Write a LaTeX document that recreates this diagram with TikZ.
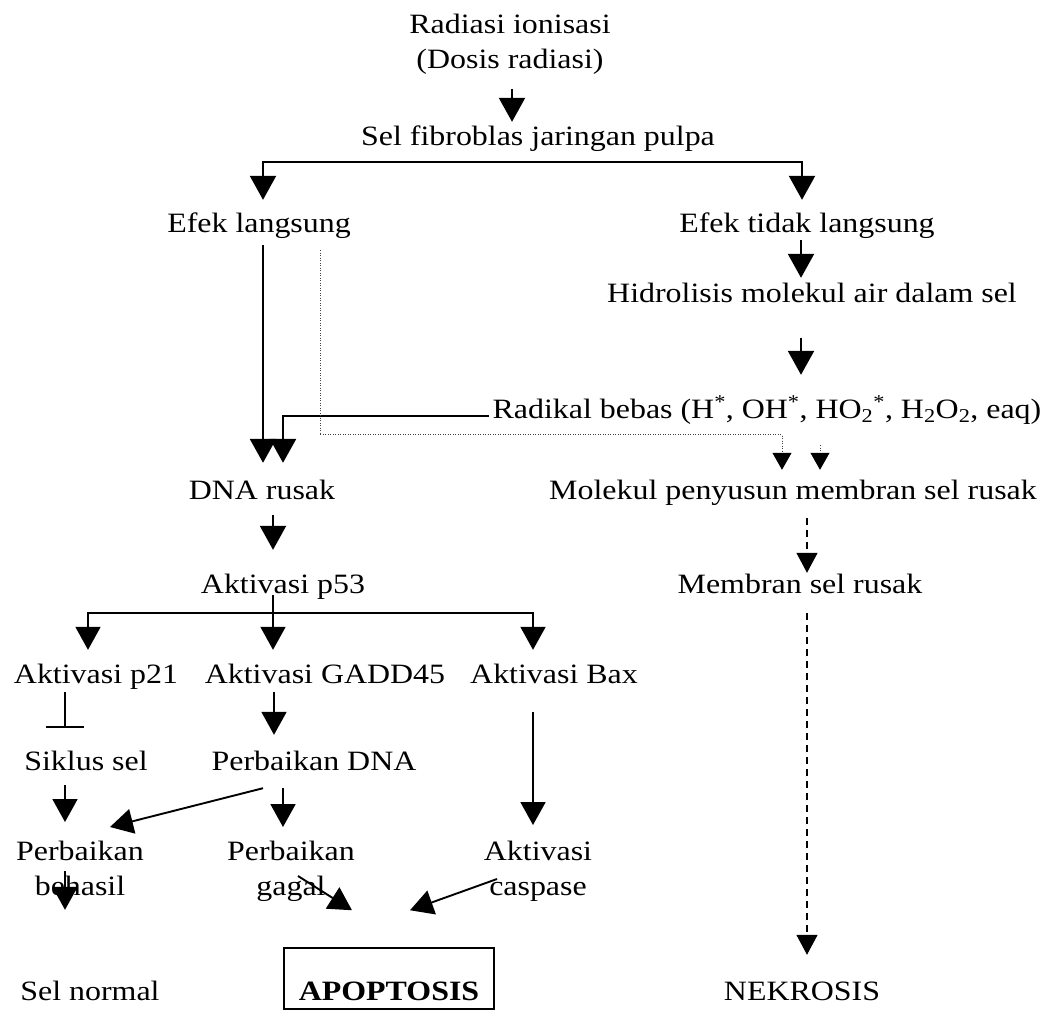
\documentclass[tikz,border=0pt]{standalone}
\usepackage{fontspec}
\setmainfont{Liberation Serif}[FakeStretch=1.14]
\usetikzlibrary{arrows.meta}
\begin{document}
\begin{tikzpicture}[x=1pt,y=-1pt,
  every node/.style={font=\fontsize{28}{35}\selectfont, inner sep=0pt},
  t/.style={anchor=base, text height=19pt, text depth=6pt},
  t2/.style={anchor=north, align=center},
  arr/.style={line width=2.3pt, -{Triangle[length=24pt,width=26pt]}},
  arrthick/.style={line width=2.6pt, -{Triangle[length=24pt,width=26pt]}},
  arrlow/.style={line width=1.9pt, -{Triangle[length=23pt,width=25pt]}},
  dotarr/.style={line width=1pt, draw=black!75, dash pattern=on 1pt off 1.5pt, -{Triangle[length=17pt,width=19pt,color=black]}},
  dasharr/.style={line width=1.3pt, dash pattern=on 7pt off 5pt, -{Triangle[length=20pt,width=21pt]}},
  inhib/.style={line width=1.9pt, -{Bar[width=38pt]}}
]
\useasboundingbox (0,0) rectangle (1042,1012);
\fill[white] (0,0) rectangle (1042,1012);

% nodes
\node[t2] (rad) at (510,14) {Radiasi ionisasi\\(Dosis radiasi)};
\node[t] (sel) at (538,145) {Sel fibroblas jaringan pulpa};
\node[t] (efl) at (259,232) {Efek langsung};
\node[t] (etl) at (807,232) {Efek tidak langsung};
\node[t] (hid) at (812,302) {Hidrolisis molekul air dalam sel};
\node[t] (radb) at (767,418) {Radikal bebas (H\textsuperscript{*}, OH\textsuperscript{*}, HO\textsubscript{2}\textsuperscript{*}, H\textsubscript{2}O\textsubscript{2}, eaq)};
\node[t] (dna) at (262,499) {DNA rusak};
\node[t] (mol) at (793,499) {Molekul penyusun membran sel rusak};
\node[t] (p53) at (283,593) {Aktivasi p53};
\node[t] (mem) at (800,593) {Membran sel rusak};
\node[t] (p21) at (96,683) {Aktivasi p21};
\node[t] (gadd) at (325,683) {Aktivasi GADD45};
\node[t] (bax) at (554,683) {Aktivasi Bax};
\node[t] (sik) at (86,770) {Siklus sel};
\node[t] (pdna) at (314,770) {Perbaikan DNA};
\node[t2] (beh) at (80,841) {Perbaikan\\behasil};
\node[t2] (gag) at (291,841) {Perbaikan\\gagal};
\node[t2] (cas) at (538,841) {Aktivasi\\caspase};
\node[t] (norm) at (90,1000) {Sel normal};
\node[t, draw, line width=1.5pt, inner xsep=15pt, text height=52pt, text depth=9pt,
      font=\fontsize{28}{35}\selectfont\bfseries] (apo) at (389,1000) {APOPTOSIS};
\node[t] (nek) at (802,1000) {NEKROSIS};

% connectors
\draw[arr] ([xshift=2pt,yshift=-14pt]rad.south) -- ([xshift=-26pt,yshift=4pt]sel.north);
\draw[arr, shorten >=13pt] ([yshift=-11pt]sel.south) -| ([xshift=4pt]efl.north);
\draw[arr, shorten >=13pt] ([yshift=-11pt]sel.south) -| ([xshift=-5pt]etl.north);

\draw[arrthick] ([xshift=4pt,yshift=-7pt]efl.south) -- ([xshift=1pt,yshift=17pt]dna.north);
\draw[arrthick] ([xshift=-3pt,yshift=2pt]radb.base west) -| ([xshift=21pt,yshift=17pt]dna.north);

\draw[dotarr] ([xshift=61pt,yshift=-12pt]efl.south) |- ([xshift=-11pt,yshift=45pt]mol.north) -- ([xshift=-11pt,yshift=10pt]mol.north);
\draw[dotarr] ([xshift=53pt,yshift=-21pt]radb.south) -- ([xshift=27pt,yshift=10pt]mol.north);

\draw[arr] ([xshift=-6pt,yshift=-2pt]etl.south) -- ([xshift=-11pt,yshift=5pt]hid.north);
\draw[arr] ([xshift=-11pt,yshift=-30pt]hid.south) -- ([xshift=34pt,yshift=24pt]radb.north);

\draw[arr] ([xshift=11pt,yshift=-10pt]dna.south) -- ([xshift=-10pt,yshift=24pt]p53.north);
\draw[dasharr] ([xshift=14pt,yshift=-13pt]mol.south) -- ([xshift=7pt,yshift=1pt]mem.north);
\draw[dasharr] ([xshift=7pt,yshift=-14pt]mem.south) -- ([xshift=5pt,yshift=26pt]nek.north);

\draw[arrlow] ([xshift=-10pt,yshift=-2pt]p53.base) -- ([xshift=-52pt,yshift=14pt]gadd.north);
\draw[arrlow] ([xshift=-10pt,yshift=-20pt]p53.base) -| ([xshift=-8pt,yshift=14pt]p21.north);
\draw[arrlow] ([xshift=-10pt,yshift=-20pt]p53.base) -| ([xshift=-21pt,yshift=14pt]bax.north);

\draw[inhib] ([xshift=-31pt,yshift=-3pt]p21.south) -- ([xshift=-21pt,yshift=23pt]sik.north);
\draw[arrlow] ([xshift=-51pt,yshift=-3pt]gadd.south) -- ([xshift=-40pt,yshift=16pt]pdna.north);
\draw[arrlow] ([xshift=-21pt,yshift=-23pt]bax.south) -- ([xshift=-5pt,yshift=16pt]cas.north);
\draw[arrlow] ([xshift=-21pt,yshift=-9pt]sik.south) -- ([xshift=-15pt,yshift=19pt]beh.north);
\draw[arrlow] ([xshift=-51pt,yshift=-12pt]pdna.south) -- ([xshift=30pt,yshift=14pt]beh.north);
\draw[arrlow] ([xshift=-31pt,yshift=-12pt]pdna.south) -- ([xshift=-8pt,yshift=14pt]gag.north);
\draw[arrlow] ([xshift=-15pt,yshift=-30pt]beh.north) -- ([xshift=-25pt,yshift=71pt]norm.north);
\draw[arrlow] ([xshift=7pt,yshift=-35pt]gag.north) -- ([xshift=-37pt,yshift=37pt]apo.north);
\draw[arrlow] ([xshift=-41pt,yshift=-38pt]cas.north) -- ([xshift=21pt,yshift=37pt]apo.north);
\end{tikzpicture}
\end{document}
